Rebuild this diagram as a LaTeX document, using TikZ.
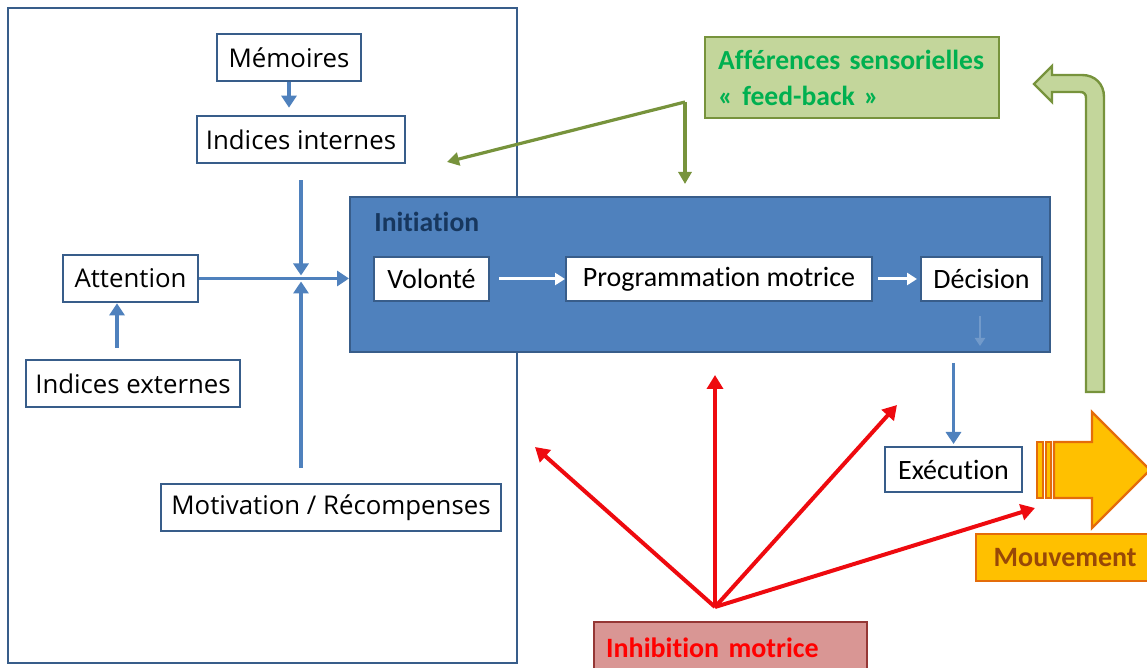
\documentclass[tikz,border=0pt]{standalone}
\usepackage{fontspec}
\setmainfont{Carlito}[Ligatures={NoCommon}]
\newfontfamily\boxfont{Open Sans}
\usetikzlibrary{arrows.meta}
\newlength{\du}
\setlength{\du}{0.5pt}
\definecolor{bleutrait}{rgb}{0.309804, 0.505882, 0.741176}
\definecolor{bleubord}{rgb}{0.219608, 0.364706, 0.541176}
\definecolor{bleunuit}{rgb}{0.090196, 0.215686, 0.368627}
\definecolor{vertfond}{rgb}{0.764706, 0.839216, 0.607843}
\definecolor{vertbord}{rgb}{0.466667, 0.576471, 0.235294}
\definecolor{verttexte}{rgb}{0.000000, 0.690196, 0.313725}
\definecolor{rougetrait}{rgb}{0.933333, 0.039216, 0.058824}
\definecolor{rosefond}{rgb}{0.850980, 0.588235, 0.580392}
\definecolor{rougebord}{rgb}{0.584314, 0.215686, 0.207843}
\definecolor{jaunefond}{rgb}{1.000000, 0.752941, 0.000000}
\definecolor{orangebord}{rgb}{0.894118, 0.423529, 0.039216}
\definecolor{bruntexte}{rgb}{0.596078, 0.282353, 0.027451}
\tikzset{
  boiteg/.style={draw=bleubord, line width=1.3pt, fill=white, inner sep=0pt,
    minimum height=47\du, font=\boxfont\fontsize{12.9}{15}\selectfont},
  boitei/.style={draw=bleubord, line width=1pt, fill=white, inner sep=0pt,
    minimum height=44\du, font=\fontsize{14}{17}\selectfont},
  flechebleue/.style={draw=bleutrait, line width=1.6pt, -{Triangle[length=6pt,width=7.5pt]}},
  flecheblanche/.style={draw=white, line width=1.5pt, -{Triangle[length=5pt,width=6pt]}},
  flecheverte/.style={draw=vertbord, line width=1.6pt, -{Triangle[length=6pt,width=6.5pt]}},
  flecherouge/.style={draw=rougetrait, line width=2pt, -{Triangle[length=7pt,width=8pt]}},
}
\begin{document}
\begin{tikzpicture}
\pgftransformyscale{-1.000000}
\useasboundingbox (0\du,0\du) rectangle (1147\du,668\du);
% cadre gauche
\draw[draw=bleubord, line width=1.1pt] (8\du,8\du) rectangle (517\du,663\du);
\node[boiteg, minimum width=144\du] (memoires) at (289\du,57.5\du) {Mémoires};
\node[boiteg, minimum width=208\du] (internes) at (301\du,139.5\du) {Indices internes};
\node[boiteg, minimum width=135\du] (attention) at (130.5\du,278.5\du) {Attention};
\node[boiteg, minimum width=214\du] (externes) at (133\du,383.5\du) {Indices externes};
\node[boiteg, minimum width=340\du] (motivation) at (331\du,507.5\du) {Motivation / Récompenses};
\coordinate (jonction) at (301\du,278.5\du);
% initiation
\node[draw=bleubord, line width=1pt, fill=bleutrait, minimum width=700\du, minimum height=155\du, inner sep=0pt] (initiation) at (700\du,274.5\du) {};
\node[anchor=west, text=bleunuit, font=\bfseries\fontsize{13.8}{16}\selectfont, inner sep=0pt] (titreinit) at (374\du,222\du) {Initiation};
\node[boitei, minimum width=115\du] (volonte) at (431.5\du,279\du) {Volonté};
\node[boitei, minimum width=306\du] (programmation) at (719\du,279\du) {Programmation motrice};
\node[boitei, minimum width=121\du] (decision) at (981.5\du,279\du) {Décision};
\node[boitei, minimum width=137\du, minimum height=45\du] (execution) at (953.5\du,469.5\du) {Exécution};
% fleches bleues
\draw[flechebleue, shorten >=7\du] (memoires.south) -- (memoires.south |- internes.north);
\draw[flechebleue, shorten <=16\du, shorten >=3\du] (internes.south) -- (jonction);
\draw[flechebleue, shorten <=15\du, shorten >=3\du] (motivation.north -| jonction) -- (jonction);
\draw[flechebleue] (attention.east) -- (initiation.west |- attention.east);
\draw[flechebleue, shorten <=11\du] ([xshift=-16\du]externes.north) -- ([xshift=-16\du]externes.north |- attention.south);
\draw[flecheblanche, shorten <=9\du] (volonte) -- (programmation);
\draw[flecheblanche, shorten <=5\du, shorten >=3\du] (programmation) -- (decision);
\draw[draw=bleutrait!80!white, line width=1.2pt, -{Triangle[length=4pt,width=5pt]}, shorten <=14\du, shorten >=7\du] ([xshift=-1.5\du]decision.south) -- ([xshift=-1.5\du]decision.south |- initiation.south);
\draw[flechebleue, shorten <=10\du, shorten >=2\du] (initiation.south -| execution) -- (execution);
% afferences
\node[draw=vertbord, line width=1.2pt, fill=vertfond, anchor=north west, text width=268\du, inner xsep=13\du, inner ysep=0pt, minimum height=81\du, align=left, text=verttexte, font=\bfseries\fontsize{13.8}{18}\selectfont] (afferences) at (704\du,36\du) {Afférences sensorielles\\«~feed-back~»};
\coordinate (fbsplit) at (685\du,102\du);
\coordinate (fbgauche) at (447\du,162\du);
\draw[flecheverte] (fbsplit) -- (fbgauche);
\draw[flecheverte, shorten >=12\du] (fbsplit) -- (fbsplit |- initiation.north);
\filldraw[draw=vertbord, fill=vertfond, line width=1.2pt] (1104\du,392\du) -- (1104\du,97\du) .. controls (1104\du,84\du) and (1095\du,75\du) .. (1082\du,75\du) -- (1052\du,75\du) -- (1052\du,66\du) -- (1034\du,84\du) -- (1052\du,102\du) -- (1052\du,92\du) -- (1080\du,92\du) .. controls (1084\du,92\du) and (1086\du,94\du) .. (1086\du,98\du) -- (1086\du,392\du) -- cycle;
% mouvement
\filldraw[draw=orangebord, fill=jaunefond, line width=1.2pt] (1037\du,442\du) rectangle (1043\du,498\du);
\filldraw[draw=orangebord, fill=jaunefond, line width=1.2pt] (1046\du,442\du) rectangle (1051\du,498\du);
\filldraw[draw=orangebord, fill=jaunefond, line width=1.2pt] (1054\du,442\du) -- (1092\du,442\du) -- (1092\du,412\du) -- (1150\du,470\du) -- (1092\du,528\du) -- (1092\du,498\du) -- (1054\du,498\du) -- cycle;
\node[draw=orangebord, line width=1.2pt, fill=jaunefond, minimum width=178\du, minimum height=47\du, inner sep=0pt, text=bruntexte, font=\bfseries\fontsize{14}{17}\selectfont, anchor=north west] (mouvement) at (975\du,533\du) {Mouvement};
% inhibition
\coordinate (inhsrc) at (715\du,607\du);
\coordinate (cible1) at (535\du,447\du);
\coordinate (cible2) at (715\du,375\du);
\coordinate (cible3) at (897\du,405\du);
\coordinate (cible4) at (1035\du,508\du);
\draw[flecherouge] (inhsrc) -- (cible1);
\draw[flecherouge] (inhsrc) -- (cible2);
\draw[flecherouge] (inhsrc) -- (cible3);
\draw[flecherouge] (inhsrc) -- (cible4);
\node[draw=rougebord, line width=1.2pt, fill=rosefond, anchor=north west, text width=249\du, inner xsep=12\du, minimum height=52\du, align=left, text=red, font=\bfseries\fontsize{14}{17}\selectfont] (inhibition) at (593\du,621\du) {Inhibition motrice};
\end{tikzpicture}
\end{document}
